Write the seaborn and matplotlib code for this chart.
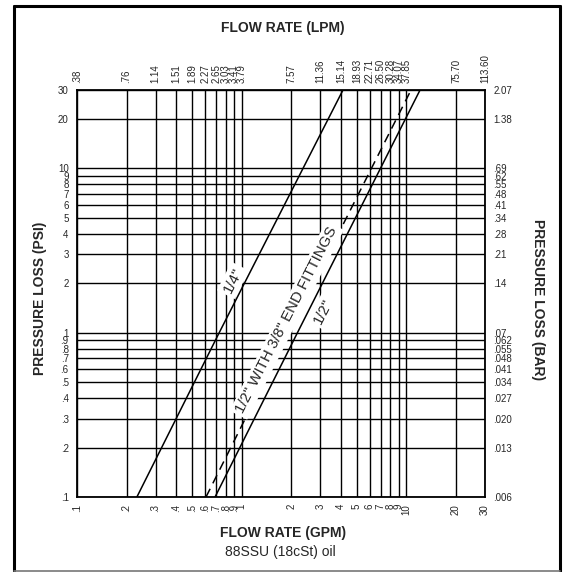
import numpy as np
import pandas as pd
import matplotlib
matplotlib.use("Agg")
import matplotlib.pyplot as plt
from matplotlib.lines import Line2D
import seaborn as sns

# axis ticks (GPM / PSI) and their converted labels (LPM / BAR)
gpm_ticks = [.1, .2, .3, .4, .5, .6, .7, .8, .9, 1, 2, 3, 4, 5, 6, 7, 8, 9, 10, 20, 30]
gpm_labels = [".1", ".2", ".3", ".4", ".5", ".6", ".7", ".8", ".9", "1",
              "2", "3", "4", "5", "6", "7", "8", "9", "10", "20", "30"]
lpm_labels = [".38", ".76", "1.14", "1.51", "1.89", "2.27", "2.65", "3.03", "3.41", "3.79",
              "7.57", "11.36", "15.14", "18.93", "22.71", "26.50", "30.28", "34.07", "37.85",
              "75.70", "113.60"]
psi_ticks = [.1, .2, .3, .4, .5, .6, .7, .8, .9, 1, 2, 3, 4, 5, 6, 7, 8, 9, 10, 20, 30]
psi_labels = [".1", ".2", ".3", ".4", ".5", ".6", ".7", ".8", ".9", "1",
              "2", "3", "4", "5", "6", "7", "8", "9", "10", "20", "30"]
bar_labels = [".006", ".013", ".020", ".027", ".034", ".041", ".048", ".055", ".062", ".07",
              ".14", ".21", ".28", ".34", ".41", ".48", ".55", ".62", ".69", "1.38", "2.07"]

# pressure loss curves (flow GPM, pressure PSI)
quarter_gpm = [0.231, 0.73, 4.12]
quarter_psi = [0.1, 1.0, 30]
half_gpm = [0.689, 2.18, 12.1]
half_psi = [0.1, 1.0, 30]
half_38_gpm = [0.607, 1.92, 10.67]
half_38_psi = [0.1, 1.0, 30]

sns.set_theme(style="white")
plt.rcParams['font.family'] = ['Liberation Sans', 'DejaVu Sans']

W, H = 563, 572
fig = plt.figure(figsize=(W / 100, H / 100), dpi=100)
ax = fig.add_axes([77 / W, 1 - 497 / H, (485 - 77) / W, (497 - 90) / H])

sns.lineplot(x=quarter_gpm, y=quarter_psi, ax=ax, color="black", lw=1.1, zorder=3)
sns.lineplot(x=half_gpm, y=half_psi, ax=ax, color="black", lw=1.1, zorder=3)
sns.lineplot(x=half_38_gpm, y=half_38_psi, ax=ax, color="black", lw=1.1,
             linestyle=(0, (6, 4)), zorder=3)

ax.set_xscale("log")
ax.set_yscale("log")
ax.set_xlim(0.1, 30)
ax.set_ylim(0.1, 30)
ax.set_xticks(gpm_ticks, gpm_labels)
ax.set_yticks(psi_ticks, psi_labels)
ax.minorticks_off()
ax.grid(True, which="major", color="black", lw=1.0)
ax.tick_params(axis="x", labelrotation=90, length=0, pad=5, labelsize=7)
ax.tick_params(axis="y", length=0, pad=6, labelsize=7)
for s in ax.spines.values():
    s.set_color("black")
    s.set_linewidth(1.3)

top = ax.secondary_xaxis("top")
top.set_xticks(gpm_ticks, lpm_labels)
top.minorticks_off()
top.tick_params(axis="x", labelrotation=90, length=0, pad=5, labelsize=7)
top.spines["top"].set_visible(False)

right = ax.secondary_yaxis("right")
right.set_yticks(psi_ticks, bar_labels)
right.minorticks_off()
right.tick_params(axis="y", length=0, pad=6, labelsize=7)
right.spines["right"].set_visible(False)

# line labels
box = dict(facecolor="white", edgecolor="none", pad=2)
ax.text(0.886, 2.08, '1/4"', rotation=63, ha="center", va="center",
        fontsize=10.8, bbox=box, zorder=5)
ax.text(1.876, 1.19, '1/2" WITH 3/8" END FITTINGS', rotation=63, ha="center",
        va="center", fontsize=10.8, bbox=box, zorder=5)
ax.text(3.13, 1.34, '1/2"', rotation=63, ha="center", va="center",
        fontsize=10.8, bbox=box, zorder=5)

# axis titles
fig.text(283 / W, 1 - 28 / H, "FLOW RATE (LPM)", ha="center", va="center",
         fontsize=10, fontweight="bold")
fig.text(283 / W, 1 - 533 / H, "FLOW RATE (GPM)", ha="center", va="center",
         fontsize=10, fontweight="bold")
fig.text(280 / W, 1 - 552 / H, "88SSU (18cSt) oil", ha="center", va="center",
         fontsize=10)
fig.text(40 / W, 1 - 298 / H, "PRESSURE LOSS (PSI)", ha="center", va="center",
         rotation=90, fontsize=10, fontweight="bold")
fig.text(538 / W, 1 - 300 / H, "PRESSURE LOSS (BAR)", ha="center", va="center",
         rotation=-90, fontsize=10, fontweight="bold")

# outer frame
l, r, t, b = 14 / W, 559.5 / W, 1 - 5.5 / H, 1 - 570.5 / H
fig.add_artist(Line2D([l, l], [b, t], color="black", lw=2.2))
fig.add_artist(Line2D([r, r], [b, t], color="black", lw=2.2))
fig.add_artist(Line2D([l, r], [t, t], color="black", lw=2.2))
fig.add_artist(Line2D([l, r], [b, b], color="#777777", lw=1.2))

fig.savefig("out.png", dpi=100)
